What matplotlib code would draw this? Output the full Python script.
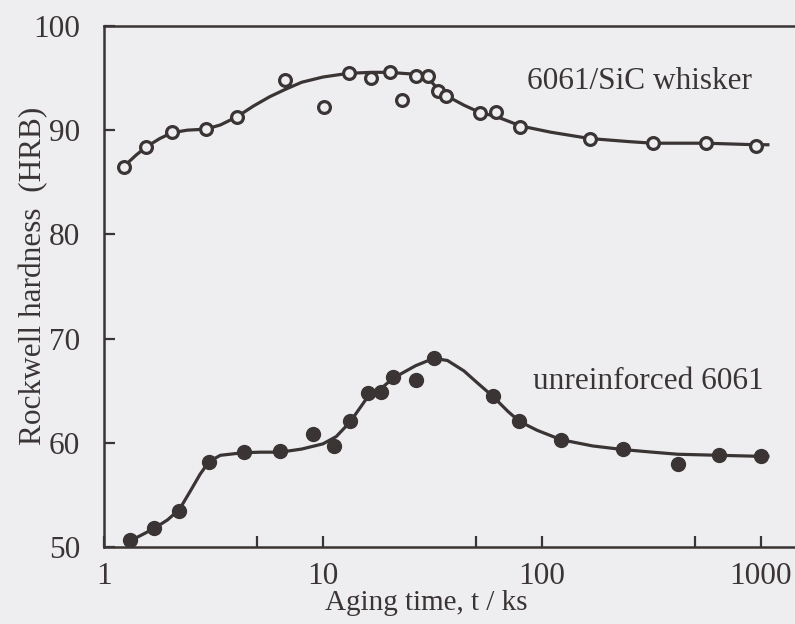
import matplotlib
matplotlib.use('Agg')
import matplotlib.pyplot as plt
from matplotlib.ticker import NullFormatter

#%%
# values (aging time in ks, hardness in HRB)

# 6061/SiC whisker, open circles
sic_t = [1.23, 1.56, 2.04, 2.92, 4.06, 6.7, 10.1, 13.1, 16.6, 20.2, 22.9,
         26.5, 30.2, 33.6, 36.6, 52.2, 61.8, 79.7, 165, 320, 561, 946]
sic_h = [86.5, 88.4, 89.8, 90.1, 91.3, 94.8, 92.2, 95.45, 95.0, 95.6, 92.9,
         95.2, 95.2, 93.8, 93.3, 91.6, 91.7, 90.3, 89.2, 88.75, 88.8, 88.5]

# fitted curve for the composite
sic_curve_t = [1.23, 1.4, 1.56, 1.8, 2.04, 2.4, 2.92, 3.4, 4.06, 4.8, 5.7,
               6.7, 8.0, 10, 13, 16.6, 20, 25, 28, 30.2, 33.6, 36.6, 44, 52,
               62, 80, 110, 165, 250, 320, 561, 946, 1075]
sic_curve_h = [86.5, 87.6, 88.4, 89.2, 89.75, 90.0, 90.1, 90.5, 91.3, 92.3, 93.2,
               93.9, 94.6, 95.1, 95.45, 95.55, 95.55, 95.4, 95.3, 95.0, 93.9, 93.3, 92.4, 91.7,
               91.3, 90.4, 89.8, 89.2, 88.9, 88.75, 88.75, 88.6, 88.6]

# unreinforced 6061, filled circles
al_t = [1.32, 1.70, 2.21, 3.02, 4.34, 6.38, 8.98, 11.25, 13.3, 16.0, 18.4,
        20.9, 26.5, 32.1, 59.7, 78.9, 122, 234, 417, 640, 997]
al_h = [50.7, 51.8, 53.5, 58.2, 59.07, 59.2, 60.8, 59.7, 62.05, 64.8, 64.9,
        66.3, 66.06, 68.1, 64.45, 62.05, 60.3, 59.4, 58.0, 58.85, 58.7]

# fitted curve for the alloy
al_curve_t = [1.32, 1.5, 1.7, 1.95, 2.21, 2.5, 2.75, 3.02, 3.4, 4.34, 5.2,
              6.38, 8.0, 10, 11.5, 13.3, 16, 18.4, 20.9, 26.5, 32, 37, 44,
              51, 59.7, 70, 78.9, 95, 122, 170, 234, 320, 417, 640, 997, 1075]
al_curve_h = [50.6, 51.2, 51.8, 52.6, 53.6, 55.5, 57.0, 58.2, 58.8, 59.05, 59.1,
              59.1, 59.4, 59.9, 60.6, 62.0, 64.4, 65.2, 66.2, 67.4, 68.1, 67.9, 66.9,
              65.7, 64.45, 63.0, 62.05, 61.2, 60.3, 59.7, 59.35, 59.1, 58.9, 58.8, 58.7, 58.7]

x_major = [1, 10, 100, 1000]
x_minor = [5, 50, 500]
y_ticks = [50, 60, 70, 80, 90, 100]

#%%
ink = '#3a3434'
paper = '#eeeef0'
fs = 22.5

plt.rcParams['font.family'] = ['Liberation Serif', 'DejaVu Serif']

fig = plt.figure(figsize=(7.95, 6.24), dpi=100, facecolor=paper)
ax = fig.add_axes([0.1308, 0.1234, 0.8692, 0.835])
ax.set_facecolor(paper)

ax.plot(sic_curve_t, sic_curve_h, '-', color=ink, lw=2.3, zorder=2)
ax.plot(sic_t, sic_h, 'o', mfc=paper, mec=ink, mew=2.3, ms=8.5, zorder=3)

ax.plot(al_curve_t, al_curve_h, '-', color=ink, lw=2.3, zorder=2)
ax.plot(al_t, al_h, 'o', mfc=ink, mec=ink, ms=10, zorder=3)

ax.set_xscale('log')
ax.set_xlim(1, 1430)
ax.set_ylim(50, 100)

ax.set_xticks(x_major)
ax.set_xticklabels([str(v) for v in x_major])
ax.set_xticks(x_minor, minor=True)
ax.xaxis.set_minor_formatter(NullFormatter())
ax.set_yticks(y_ticks)
ax.set_yticklabels([str(v) for v in y_ticks])

ax.tick_params(axis='both', which='both', direction='in', length=8, width=1.6,
               color=ink, labelcolor=ink, labelsize=fs)
ax.tick_params(axis='x', which='both', pad=11, top=False)
ax.tick_params(axis='y', pad=17, right=False)

for side in ['left', 'bottom', 'top']:
    ax.spines[side].set_linewidth(1.8)
    ax.spines[side].set_color(ink)
ax.spines['right'].set_visible(False)

ax.set_xlabel('Aging time, t / ks', fontsize=21, color=ink)
ax.xaxis.set_label_coords(0.467, -0.083)
ax.set_ylabel('Rockwell hardness  (HRB)', fontsize=fs, color=ink)
ax.yaxis.set_label_coords(-0.08, 0.52)

ax.text(0.938, 0.8925, '6061/SiC whisker', transform=ax.transAxes,
        ha='right', va='center', fontsize=fs, color=ink)
ax.text(0.954, 0.317, 'unreinforced 6061', transform=ax.transAxes,
        ha='right', va='center', fontsize=fs, color=ink)

fig.savefig('out.png', dpi=100, facecolor=paper)
